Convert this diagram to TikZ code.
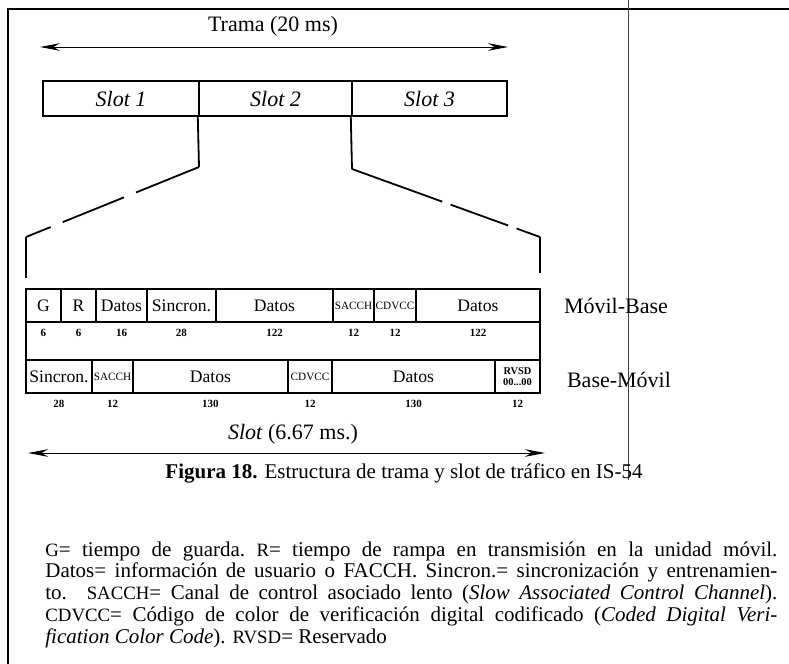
\documentclass[tikz,border=0pt]{standalone}
\usepackage{fontspec}
\setmainfont{Liberation Serif}
\usetikzlibrary{arrows.meta, fit, positioning}

\newcommand{\abr}[1]{{\fontsize{9.4}{10}\selectfont #1}}

\begin{document}
\begin{tikzpicture}[x=0.5pt, y=-0.5pt,
		frame/.style={line width=1pt},
		scanline/.style={line width=0.4pt, black!75},
		label/.style={font=\fontsize{11}{13}\selectfont, inner sep=0pt},
		slotbox/.style={draw, line width=1.2pt, inner sep=0pt, minimum height=17.5pt, font=\fontsize{11}{13}\selectfont\itshape},
		cell/.style={draw, line width=1.1pt, inner sep=0pt, minimum height=16.5pt, font=\fontsize{8.8}{10}\selectfont},
		tinycell/.style={cell, font=\fontsize{5.6}{6}\selectfont},
		num/.style={inner sep=0pt, font=\bfseries\fontsize{5.5}{6}\selectfont},
		zoomline/.style={line width=0.9pt},
		dimarrow/.style={{Stealth[length=10pt, width=3.8pt]}-{Stealth[length=10pt, width=3.8pt]}, line width=0.5pt},
		para/.style={align=left, inner sep=0pt, font=\fontsize{10.5}{10.9}\selectfont}
		]
		\useasboundingbox (0,0) rectangle (789,664);
		
		% page frame and scan edge
		\draw[frame] (8,664) -- (8,9) -- (789,9);
		\draw[scanline] (628,0) -- (628,480);
		
		% frame of three slots
		\node[label] (trama) at (273,26) {Trama (20 ms)};
		\coordinate (trL) at (40,47);
		\coordinate (trR) at (508,47);
		\draw[dimarrow] (trL) -- (trR);
		
		\foreach \xa/\xb/\n in {43/199/1, 199/352/2, 352/507/3}
			\node[slotbox, minimum width={(\xb-\xa)*0.5pt}] (s\n) at ({(\xa+\xb)/2},98.5) {Slot \n};
		
		% zoom onto slot 2
		\coordinate (zA) at (199,167);
		\coordinate (zB) at (26,237);
		\coordinate (zC) at (26,278);
		\coordinate (zD) at (352,169);
		\coordinate (zE) at (540,237);
		\coordinate (zF) at (540,273);
		\draw[zoomline] (s2.south west) -- (zA);
		\draw[zoomline, dash pattern=on 34pt off 6.5pt on 33pt off 6.5pt on 20pt] (zA) -- (zB);
		\draw[zoomline] (zB) -- (zC);
		\draw[zoomline] (s3.south west) -- (zD);
		\draw[zoomline, dash pattern=on 48pt off 4.5pt on 30.5pt off 4.5pt on 20pt] (zD) -- (zE);
		\draw[zoomline] (zE) -- (zF);
		
		% slot fields
		\node[draw, line width=1.1pt, inner sep=0pt, fit={(26,289) (540,393)}] (campo) {};
		
		% Movil-Base
		\foreach \xa/\xb/\txt/\num/\sty [count=\i] in {26/61/G/6/cell, 61/96/R/6/cell, 96/147/Datos/16/cell, 147/216/Sincron./28/cell, 216/333/Datos/122/cell, 333/374/SACCH/12/tinycell, 374/416/CDVCC/12/tinycell, 416/540/Datos/122/cell}
		{
			\node[\sty, minimum width={(\xb-\xa)*0.5pt}] (mb\i) at ({(\xa+\xb)/2},305.5) {\txt};
			\node[num, below=3pt of mb\i] (nmb\i) {\num};
		}
		
		% Base-Movil
		\foreach \xa/\xb/\txt/\num/\sty [count=\i] in {26/92/Sincron./28/cell, 92/133/SACCH/12/tinycell, 133/288/Datos/130/cell, 288/332/CDVCC/12/tinycell, 332/495/Datos/130/cell}
		{
			\node[\sty, minimum width={(\xb-\xa)*0.5pt}] (bm\i) at ({(\xa+\xb)/2},376.5) {\txt};
			\node[num, below=3pt of bm\i] (nbm\i) {\num};
		}
		\node[cell, align=center, minimum width=22.5pt, font=\bfseries\fontsize{5.2}{5.6}\selectfont] (bm6) at (517.5,376.5) {RVSD\\00...00};
		\node[num, below=3pt of bm6] (nbm6) {12};
		
		\node[label] (mbtxt) at (616,306) {Móvil-Base};
		\node[label] (bmtxt) at (619,380) {Base-Móvil};
		
		% slot duration
		\node[label] (slot) at (293,434) {\textit{Slot} (6.67 ms.)};
		\coordinate (slL) at (28,453);
		\coordinate (slR) at (545,453);
		\draw[dimarrow] (slL) -- (slR);
		
		% caption and legend
		\node[label, font=\fontsize{10.5}{12}\selectfont] (cap) at (404,473) {\textbf{Figura 18.} Estructura de trama y slot de tráfico en IS-54};
		
		\node[para, anchor=north west] (leyenda) at (45,541) {\frenchspacing
			\makebox[366pt][s]{\abr{G}= tiempo de guarda. \abr{R}= tiempo de rampa en transmisión en la unidad móvil.}\\
			\makebox[366pt][s]{Datos= información de usuario o FACCH. Sincron.= sincronización y entrenamien-}\\
			\makebox[366pt][s]{to. \abr{SACCH}= Canal de control asociado lento (\textit{Slow Associated Control Channel}).}\\
			\makebox[366pt][s]{\abr{CDVCC}= Código de color de verificación digital codificado (\textit{Coded Digital Veri-}}\\
			\textit{fication Color Code}). \abr{RVSD}= Reservado};
	\end{tikzpicture}
\end{document}
